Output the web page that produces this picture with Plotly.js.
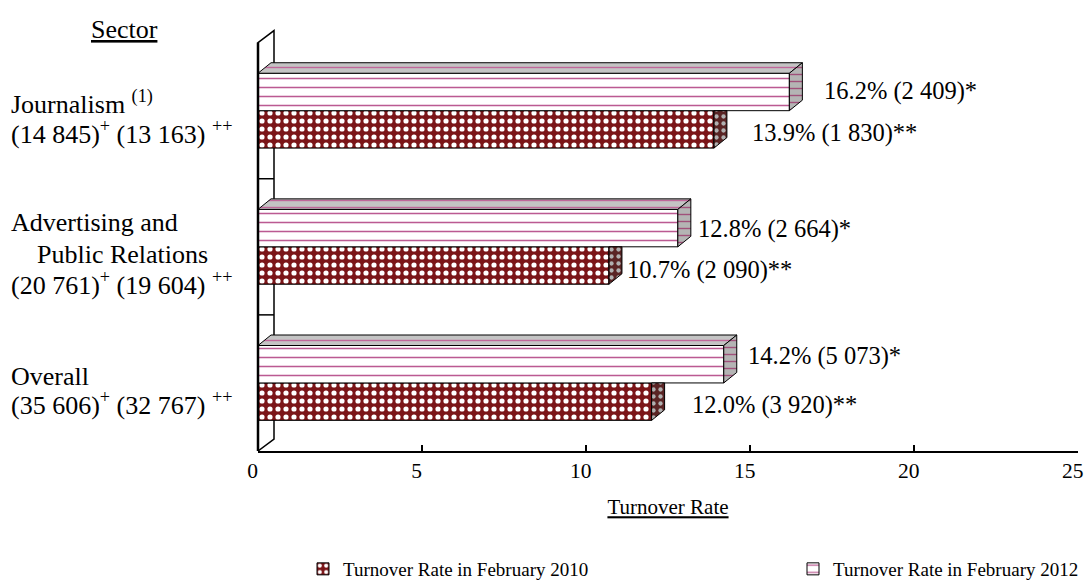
<!DOCTYPE html>
<html><head><meta charset="utf-8">
<script src="https://cdn.plot.ly/plotly-3.0.1.min.js"></script>
<style>html,body{margin:0;padding:0;background:#fff}#chart{width:1084px;height:581px}</style>
</head><body><div id="chart"></div>
<script>
// ---- data ----
const categories = ["Journalism", "Advertising and Public Relations", "Overall"];
const categoryLines = [
  ["Journalism <sup>(1)</sup>"],
  ["Advertising and", "\u00a0\u00a0\u00a0\u00a0Public Relations"],
  ["Overall"]
];
const employees2012 = [14845, 20761, 35606];   // (+)
const employees2010 = [13163, 19604, 32767];   // (++)
const rate2010 = [13.9, 10.7, 12.0];
const rate2012 = [16.2, 12.8, 14.2];
const leavers2010 = [1830, 2090, 3920];
const leavers2012 = [2409, 2664, 5073];
const seriesNames = ["Turnover Rate in February 2010", "Turnover Rate in February 2012"];
const xTicks = [0, 5, 10, 15, 20, 25];

// ---- layout constants ----
const FONT = "Liberation Serif, Times New Roman, serif";
const L = 258, R = 6, T = 29, B = 130, W = 1084, H = 581;
const plotW = W - L - R, plotH = H - T - B;
const xMax = 25, yMin = -0.5, yMax = 2.6;
const BARGAP = 0.45, barW = (1 - BARGAP) / 2;
const pxX = xMax / plotW, pxY = (yMax - yMin) / plotH;
const dX = 13 * pxX, dY = 10.5 * pxY;           // bar depth
const wX = 16 / plotW, wY = 12 * pxY;           // wall depth

const fmt = n => n.toString().replace(/\B(?=(\d{3})+(?!\d))/g, "\u00a0");
const yPos = categories.map((_, i) => categories.length - 1 - i);

const pat2010 = {shape: ".", fgcolor: "#ffffff", bgcolor: "#7b1518", size: 8, solidity: 0.33};
const pat2012 = {shape: "-", fgcolor: "#bb5a92", bgcolor: "#ffffff", size: 9, solidity: 0.17};

const traces = [
  {type: "bar", orientation: "h", name: seriesNames[0], x: rate2010, y: yPos,
   marker: {color: "#7b1518", line: {color: "#000", width: 1}, pattern: pat2010},
   hoverinfo: "x", legend: "legend"},
  {type: "bar", orientation: "h", name: seriesNames[1], x: rate2012, y: yPos,
   marker: {color: "#ffffff", line: {color: "#000", width: 1}, pattern: pat2012},
   hoverinfo: "x", legend: "legend2"}
];

// 3D faces built from the values
function faces(build) {
  const xs = [], ys = [];
  yPos.forEach((y, i) => { build(y, i).forEach(q => { xs.push(q[0]); ys.push(q[1]); }); xs.push(null); ys.push(null); });
  return {xs, ys};
}
const top12 = faces((y, i) => [[0, y + barW], [rate2012[i], y + barW], [rate2012[i] + dX, y + barW + dY], [dX, y + barW + dY], [0, y + barW]]);
const side12 = faces((y, i) => [[rate2012[i], y], [rate2012[i], y + barW], [rate2012[i] + dX, y + barW + dY], [rate2012[i] + dX, y + dY], [rate2012[i], y]]);
const side10 = faces((y, i) => [[rate2010[i], y - barW], [rate2010[i], y], [rate2010[i] + dX, y], [rate2010[i] + dX, y - barW + dY], [rate2010[i], y - barW]]);

function faceTrace(f, color, pat) {
  return {type: "scatter", mode: "lines", x: f.xs, y: f.ys, fill: "toself", fillcolor: color,
    fillpattern: pat, line: {color: "#000", width: 1}, hoverinfo: "skip", showlegend: false, connectgaps: false};
}
traces.push(faceTrace(top12, "#c4c4c4", {shape: "-", fgcolor: "#c0679a", bgcolor: "#c4c4c4", size: 7, solidity: 0.2}));
traces.push(faceTrace(side12, "#b4b4b4", {shape: "-", fgcolor: "#a0507a", bgcolor: "#b4b4b4", size: 7, solidity: 0.2}));
traces.push(faceTrace(side10, "#5a2424", {shape: ".", fgcolor: "#b0b0b0", bgcolor: "#5a2424", size: 7, solidity: 0.3}));

// ---- annotations ----
const annotations = [];
const lineShift = [[8, -22], [24, -8, -37], [6, -21]];   // px offsets of each label line from the category centre
yPos.forEach((y, i) => {
  const lines = categoryLines[i].concat(["(" + fmt(employees2012[i]) + ")<sup>+</sup> (" + fmt(employees2010[i]) + ") <sup>++</sup>"]);
  lines.forEach((t, k) => {
    annotations.push({xref: "paper", yref: "y", x: (9 - L) / plotW, y: y, xanchor: "left", yanchor: "middle",
      align: "left", showarrow: false, yshift: lineShift[i][k], text: t,
      font: {family: FONT, size: 26, color: "#000"}});
  });
});
const lab12X = [33, 18, 22], lab12Y = [1, -1, 8];
const lab10X = [36, 16, 38], lab10Y = [-4, -4, -3];
yPos.forEach((y, i) => {
  annotations.push({x: rate2012[i], y: y + barW / 2, xanchor: "left", yanchor: "middle", showarrow: false,
    xshift: lab12X[i], yshift: lab12Y[i], text: rate2012[i].toFixed(1) + "% (" + fmt(leavers2012[i]) + ")*",
    font: {family: FONT, size: 24.5, color: "#000"}});
  annotations.push({x: rate2010[i], y: y - barW / 2, xanchor: "left", yanchor: "middle", showarrow: false,
    xshift: lab10X[i], yshift: lab10Y[i], text: rate2010[i].toFixed(1) + "% (" + fmt(leavers2010[i]) + ")**",
    font: {family: FONT, size: 24.5, color: "#000"}});
});
annotations.push({xref: "paper", yref: "paper", x: (124 - L) / plotW, y: (H - B - 29) / plotH, xanchor: "center", yanchor: "middle",
  showarrow: false, text: "<u>Sector</u>", font: {family: FONT, size: 26, color: "#000"}});

// ---- wall ----
const wallLine = {color: "#000", width: 1.5};
const shapes = [
  {type: "path", xref: "paper", yref: "y", layer: "below",
   path: `M0,${yMin} L0,2.5 L${wX},${2.5 + wY} L${wX},${yMin + wY} Z`, fillcolor: "#fff", line: {color: "#000", width: 1.5}},
  {type: "line", xref: "paper", yref: "y", x0: 0, x1: 0, y0: yMin, y1: 2.5, line: {color: "#000", width: 2.5}},
  {type: "line", xref: "paper", yref: "y", x0: 0, x1: wX, y0: 0.5, y1: 0.5, line: wallLine},
  {type: "line", xref: "paper", yref: "y", x0: 0, x1: wX, y0: 1.5, y1: 1.5, line: wallLine}
];

const legendY = -(569 - (H - B)) / plotH;
const legendFont = {family: FONT, size: 19, color: "#000"};
const layout = {
  width: W, height: H,
  margin: {l: L, r: R, t: T, b: B, autoexpand: false},
  paper_bgcolor: "#fff", plot_bgcolor: "rgba(0,0,0,0)",
  barmode: "group", bargap: BARGAP, bargroupgap: 0,
  font: {family: FONT, color: "#000"},
  xaxis: {range: [0, xMax], tickmode: "array", tickvals: xTicks,
    ticktext: xTicks.map(v => String(v) + "\u00a0\u00a0"),
    ticks: "inside", ticklen: 6, tickwidth: 1.5, tickcolor: "#000",
    showline: true, linecolor: "#000", linewidth: 1.5, showgrid: false, zeroline: false, fixedrange: true,
    ticklabeloverflow: "allow", automargin: false,
    tickfont: {family: FONT, size: 21.5, color: "#000"},
    title: {text: "<u>Turnover Rate</u>", font: {family: FONT, size: 21, color: "#000"}, standoff: 17}},
  yaxis: {range: [yMin, yMax], showline: false, showticklabels: false, showgrid: false, zeroline: false, ticks: "", fixedrange: true, automargin: false},
  legend: {orientation: "h", x: (303 - L) / plotW, xanchor: "left", y: legendY, yanchor: "middle",
    font: legendFont, bgcolor: "rgba(0,0,0,0)"},
  legend2: {orientation: "h", x: (793 - L) / plotW, xanchor: "left", y: legendY, yanchor: "middle",
    font: legendFont, bgcolor: "rgba(0,0,0,0)"},
  shapes: shapes, annotations: annotations,
  showlegend: true
};

Plotly.newPlot("chart", traces, layout, {displayModeBar: false, staticPlot: true});
</script>
</body></html>
